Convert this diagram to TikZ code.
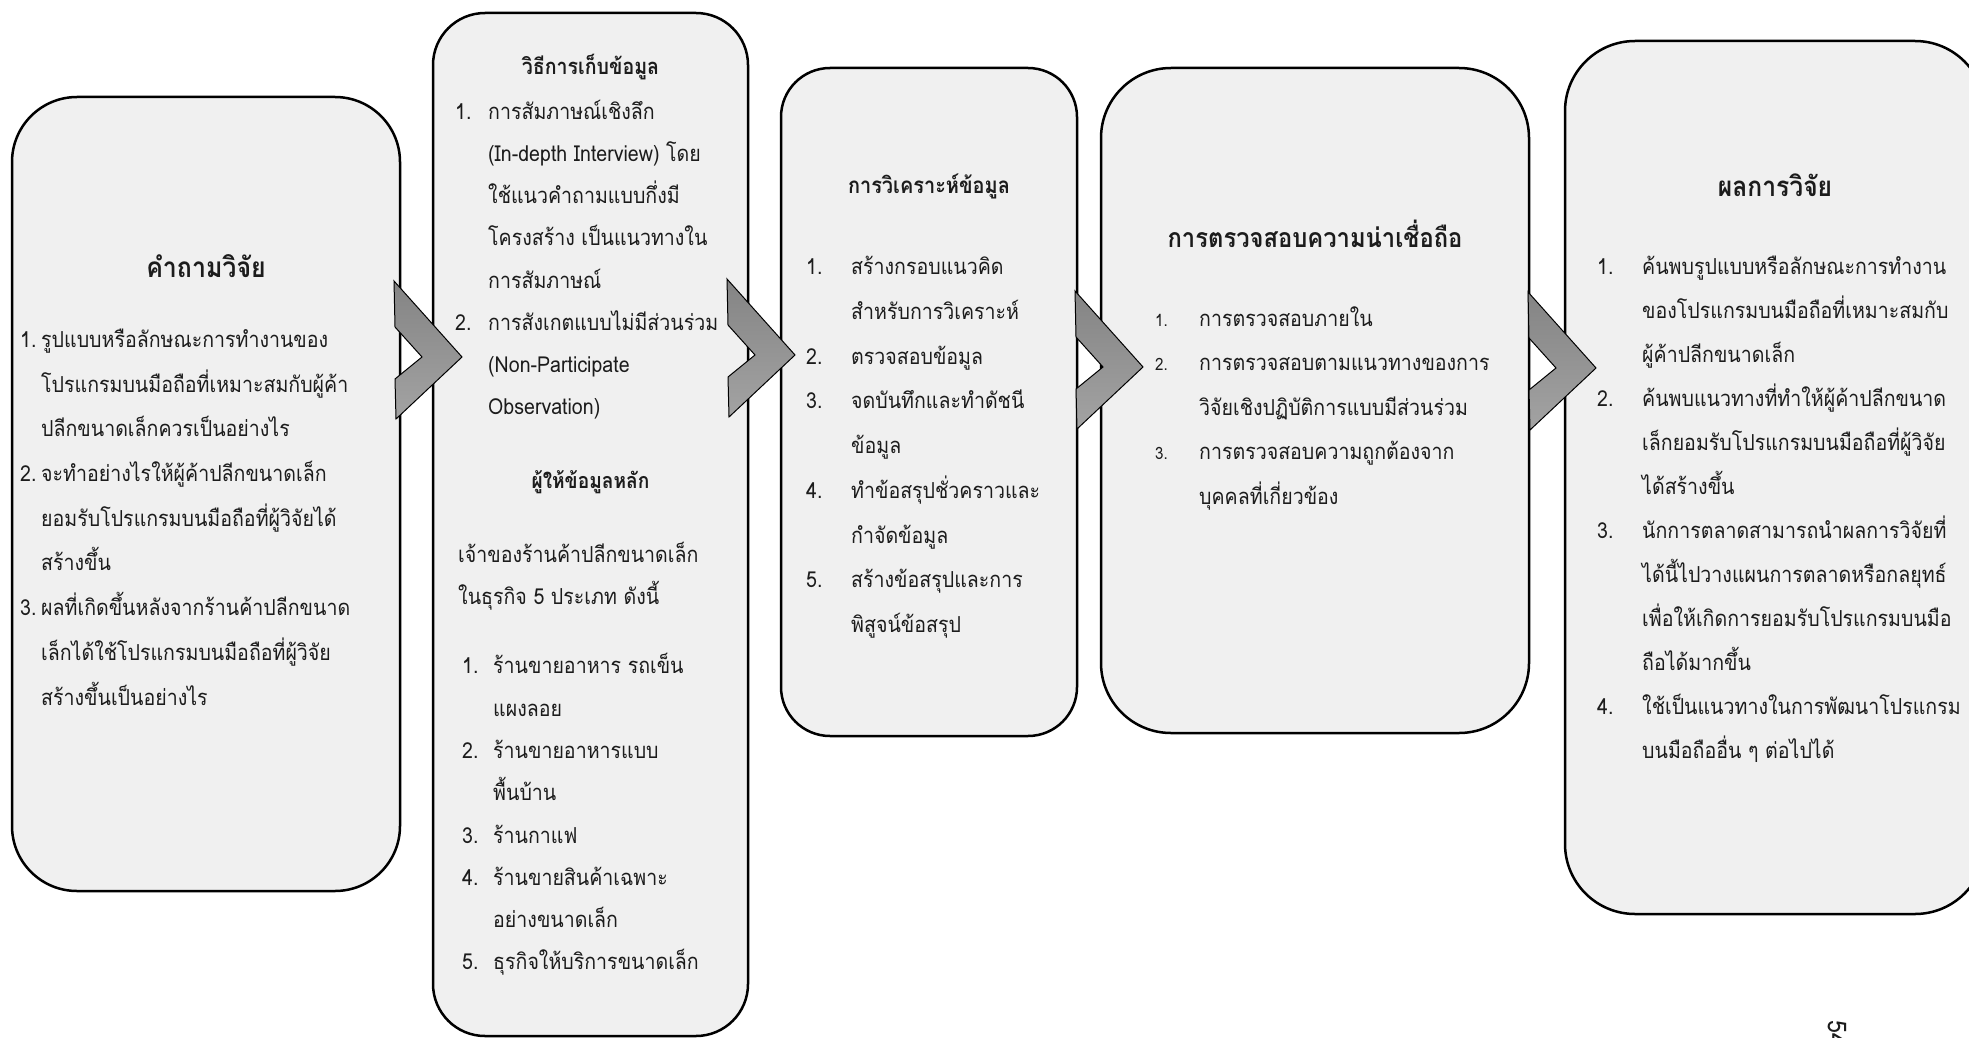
\documentclass[tikz,border=0pt]{standalone}
\usepackage{fontspec}
\setmainfont{Loma}[Script=Thai, FakeStretch=0.89]
\usetikzlibrary{calc}

\definecolor{boxfill}{HTML}{F0F0F0}
\definecolor{txt}{HTML}{1C1C1C}
\definecolor{chevtop}{HTML}{848484}
\definecolor{chevbot}{HTML}{A3A3A3}

\tikzset{
  panel/.style={draw=black, line width=2.5pt, fill=boxfill, inner sep=0pt, outer sep=0pt},
  head/.style={anchor=base, inner sep=0pt, text=txt, font=\bfseries\fontsize{#1}{#1}\selectfont},
  body/.style 2 args={anchor=north west, inner sep=0pt, align=left, text=txt,
    font=\fontsize{#1}{#2}\selectfont},
  chevron/.style={draw=black, line width=1pt, top color=chevtop, bottom color=chevbot,
    line join=miter},
}

% block arrow whose tip sits on the given coordinate
\newcommand\blockarrow[1]{%
  \path[chevron] (#1) -- ++(-66,62) -- ++(-1,-40) -- ++(27,-22)
    -- ++(-27,-30) -- ++(-1,-46) -- cycle;}

\begin{document}
\begin{tikzpicture}[x=1pt,y=-1pt]
\useasboundingbox (0,0) rectangle (1969,1038);
\fill[white] (0,0) rectangle (1969,1038);

% ---- panels ----
\node[panel, rounded corners=65pt, minimum width=388pt, minimum height=794pt] (b1) at (206,494) {};
\node[panel, rounded corners=52pt, minimum width=315pt, minimum height=1023pt] (b2) at (590.5,524.5) {};
\node[panel, rounded corners=49pt, minimum width=296pt, minimum height=668pt] (b3) at (929,402) {};
\node[panel, rounded corners=70pt, minimum width=428pt, minimum height=665pt] (b4) at (1315,400.5) {};
\node[panel, rounded corners=70pt, minimum width=420pt, minimum height=873pt] (b5) at (1775,477.5) {};

% ---- block arrows between the panels ----
\coordinate (t1) at (462,357);
\coordinate (t2) at (795,355);
\coordinate (t3) at (1143,367);
\coordinate (t4) at (1596,368);
\blockarrow{t1}
\blockarrow{t2}
\blockarrow{t3}
\blockarrow{t4}

% ---- panel 1: research questions ----
\node[head=28] (h1) at (b1.center |- 0,277) {คำถามวิจัย};
\node[body={22}{44.7}] (n1) at (20,316) {\strut 1.\\\strut\\\strut\\\strut 2.\\\strut\\\strut\\\strut 3.};
\node[body={22}{44.7}] (x1) at (41,316) {%
\strut รูปแบบหรือลักษณะการทำงานของ\\
\strut โปรแกรมบนมือถือที่เหมาะสมกับผู้ค้า\\
\strut ปลีกขนาดเล็กควรเป็นอย่างไร\\
\strut จะทำอย่างไรให้ผู้ค้าปลีกขนาดเล็ก\\
\strut ยอมรับโปรแกรมบนมือถือที่ผู้วิจัยได้\\
\strut สร้างขึ้น\\
\strut ผลที่เกิดขึ้นหลังจากร้านค้าปลีกขนาด\\
\strut เล็กได้ใช้โปรแกรมบนมือถือที่ผู้วิจัย\\
\strut สร้างขึ้นเป็นอย่างไร};

% ---- panel 2: data collection and informants ----
\node[head=22] (h2) at (b2.center |- 0,75) {วิธีการเก็บข้อมูล};
\node[body={22}{42.2}] (n2) at (455,89.5) {\strut 1.\\\strut\\\strut\\\strut\\\strut\\\strut 2.};
\node[body={22}{42.2}] (x2) at (488,89.5) {%
\strut การสัมภาษณ์เชิงลึก\\
\strut (In-depth Interview) โดย\\
\strut ใช้แนวคำถามแบบกึ่งมี\\
\strut โครงสร้าง เป็นแนวทางใน\\
\strut การสัมภาษณ์\\
\strut การสังเกตแบบไม่มีส่วนร่วม\\
\strut (Non-Participate\\
\strut Observation)};
\node[head=21.5] (h2b) at (b2.center |- 0,488) {ผู้ให้ข้อมูลหลัก};
\node[body={22}{42}] (p2) at (458,533) {%
\strut เจ้าของร้านค้าปลีกขนาดเล็ก\\
\strut ในธุรกิจ 5 ประเภท ดังนี้};
\node[body={22}{42.3}] (m2) at (462,644) {\strut 1.\\\strut\\\strut 2.\\\strut\\\strut 3.\\\strut 4.\\\strut\\\strut 5.};
\node[body={22}{42.3}] (y2) at (493,644) {%
\strut ร้านขายอาหาร รถเข็น\\
\strut แผงลอย\\
\strut ร้านขายอาหารแบบ\\
\strut พื้นบ้าน\\
\strut ร้านกาแฟ\\
\strut ร้านขายสินค้าเฉพาะ\\
\strut อย่างขนาดเล็ก\\
\strut ธุรกิจให้บริการขนาดเล็ก};

% ---- panel 3: data analysis ----
\node[head=22.4] (h3) at (b3.center |- 0,193) {การวิเคราะห์ข้อมูล};
\node[body={22}{44.75}] (n3) at (806,243) {\strut 1.\\\strut\\\strut 2.\\\strut 3.\\\strut\\\strut 4.\\\strut\\\strut 5.};
\node[body={22}{44.75}] (x3) at (851,243) {%
\strut สร้างกรอบแนวคิด\\
\strut สำหรับการวิเคราะห์\\
\strut ตรวจสอบข้อมูล\\
\strut จดบันทึกและทำดัชนี\\
\strut ข้อมูล\\
\strut ทำข้อสรุปชั่วคราวและ\\
\strut กำจัดข้อมูล\\
\strut สร้างข้อสรุปและการ\\
\strut พิสูจน์ข้อสรุป};

% ---- panel 4: trustworthiness ----
\node[head=26.7] (h4) at (b4.center |- 0,247) {การตรวจสอบความน่าเชื่อถือ};
\node[body={17}{44.5}] (n4) at (1155,295) {\strut 1.\\\strut 2.\\\strut\\\strut 3.};
\node[body={22}{44.5}] (x4) at (1199,295) {%
\strut การตรวจสอบภายใน\\
\strut การตรวจสอบตามแนวทางของการ\\
\strut วิจัยเชิงปฏิบัติการแบบมีส่วนร่วม\\
\strut การตรวจสอบความถูกต้องจาก\\
\strut บุคคลที่เกี่ยวข้อง};

% ---- panel 5: findings ----
\node[head=27.7] (h5) at (b5.center |- 0,196) {ผลการวิจัย};
\node[body={22}{44}] (n5) at (1597,243.5) {\strut 1.\\\strut\\\strut\\\strut 2.\\\strut\\\strut\\\strut 3.\\\strut\\\strut\\\strut\\\strut 4.};
\node[body={22}{44}] (x5) at (1642,243.5) {%
\strut ค้นพบรูปแบบหรือลักษณะการทำงาน\\
\strut ของโปรแกรมบนมือถือที่เหมาะสมกับ\\
\strut ผู้ค้าปลีกขนาดเล็ก\\
\strut ค้นพบแนวทางที่ทำให้ผู้ค้าปลีกขนาด\\
\strut เล็กยอมรับโปรแกรมบนมือถือที่ผู้วิจัย\\
\strut ได้สร้างขึ้น\\
\strut นักการตลาดสามารถนำผลการวิจัยที่\\
\strut ได้นี้ไปวางแผนการตลาดหรือกลยุทธ์\\
\strut เพื่อให้เกิดการยอมรับโปรแกรมบนมือ\\
\strut ถือได้มากขึ้น\\
\strut ใช้เป็นแนวทางในการพัฒนาโปรแกรม\\
\strut บนมือถืออื่น ๆ ต่อไปได้};

% ---- page number ----
\node[rotate=-90, anchor=west, inner sep=0pt, text=txt, font=\fontsize{26}{30}\selectfont] (pg) at (1837,1020) {54};
\end{tikzpicture}
\end{document}
